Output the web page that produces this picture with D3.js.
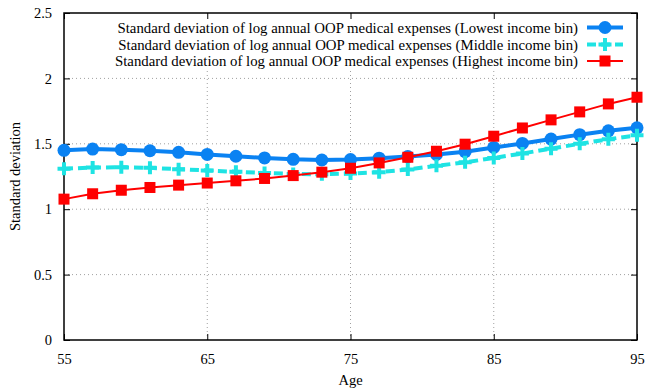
<!DOCTYPE html>
<html>
<head>
<meta charset="utf-8">
<script src="https://cdn.jsdelivr.net/npm/d3@7"></script>
<style>
  html, body { margin: 0; padding: 0; background: #fff; }
  svg { display: block; }
  svg text { font-family: "Liberation Serif", "Times New Roman", "DejaVu Serif", serif; }
</style>
</head>
<body>
<svg id="chart" width="645" height="392"></svg>
<script>
// Ages sampled every two years
const ages = [55, 57, 59, 61, 63, 65, 67, 69, 71, 73, 75, 77, 79, 81, 83, 85, 87, 89, 91, 93, 95];

// Standard deviation of log annual OOP medical expenses by income bin
const lowestIncome  = [1.450, 1.460, 1.455, 1.447, 1.435, 1.419, 1.405, 1.392, 1.381, 1.376, 1.380, 1.390, 1.402, 1.418, 1.440, 1.472, 1.503, 1.536, 1.570, 1.599, 1.622];
const middleIncome  = [1.309, 1.319, 1.320, 1.316, 1.306, 1.296, 1.286, 1.277, 1.270, 1.267, 1.273, 1.283, 1.304, 1.332, 1.358, 1.392, 1.426, 1.463, 1.500, 1.535, 1.565];
const highestIncome = [1.077, 1.118, 1.145, 1.166, 1.184, 1.200, 1.217, 1.235, 1.257, 1.283, 1.313, 1.354, 1.397, 1.443, 1.497, 1.558, 1.621, 1.683, 1.744, 1.805, 1.856];

const seriesLabels = [
  "Standard deviation of log annual OOP medical expenses (Lowest income bin)",
  "Standard deviation of log annual OOP medical expenses (Middle income bin)",
  "Standard deviation of log annual OOP medical expenses (Highest income bin)"
];

const xTicks = [55, 65, 75, 85, 95];
const yTicks = [0, 0.5, 1, 1.5, 2, 2.5];
const xTitle = "Age";
const yTitle = "Standard deviation";

const svg = d3.select("#chart");
const margin = { left: 64, right: 8, top: 13, bottom: 52 };
const W = 645, H = 392;
const x0 = margin.left, x1 = W - margin.right, y0 = H - margin.bottom, y1 = margin.top;

const x = d3.scaleLinear().domain([55, 95]).range([x0, x1]);
const y = d3.scaleLinear().domain([0, 2.5]).range([y0, y1]);

// Dotted grid
const grid = svg.append("g").attr("stroke", "#a0a0a0").attr("stroke-width", 1).attr("stroke-dasharray", "1,3");
grid.selectAll("line.gy").data(yTicks.filter(v => v > 0 && v < 2.5)).join("line")
  .attr("x1", x0).attr("x2", x1).attr("y1", d => y(d)).attr("y2", d => y(d));
grid.selectAll("line.gx").data(xTicks.filter(v => v > 55 && v < 95)).join("line")
  .attr("y1", y0).attr("y2", y1).attr("x1", d => x(d)).attr("x2", d => x(d));

// Key background hides the grid beneath the legend
svg.append("rect").attr("x", 112).attr("y", y1 + 1).attr("width", x1 - 113).attr("height", 56).attr("fill", "#fff");

// Axes with inward ticks, mirrored on the opposite sides
const tickLen = 6;
const axBottom = d3.axisBottom(x).tickValues(xTicks).tickSize(-tickLen).tickPadding(tickLen + 8).tickFormat(d3.format("d"));
const axTop = d3.axisTop(x).tickValues(xTicks).tickSize(-tickLen).tickFormat("");
const axLeft = d3.axisLeft(y).tickValues(yTicks).tickSize(-tickLen).tickPadding(tickLen + 6).tickFormat(d => d3.format("")(d));
const axRight = d3.axisRight(y).tickValues(yTicks).tickSize(-tickLen).tickFormat("");

function styleAxis(g) {
  g.attr("font-family", null);
  g.select(".domain").remove();
  g.selectAll(".tick line").attr("stroke", "#000").attr("stroke-width", 1);
  g.selectAll(".tick text").attr("fill", "#000").attr("font-size", 14.5);
}
svg.append("g").attr("transform", `translate(0,${y0})`).call(axBottom).call(styleAxis);
svg.append("g").attr("transform", `translate(0,${y1})`).call(axTop).call(styleAxis);
svg.append("g").attr("transform", `translate(${x0},0)`).call(axLeft).call(styleAxis);
svg.append("g").attr("transform", `translate(${x1},0)`).call(axRight).call(styleAxis);

// Frame
svg.append("rect").attr("x", x0).attr("y", y1).attr("width", x1 - x0).attr("height", y0 - y1)
  .attr("fill", "none").attr("stroke", "#000").attr("stroke-width", 1.5);

// Axis titles
svg.append("text").attr("x", (x0 + x1) / 2).attr("y", 385).attr("text-anchor", "middle")
  .attr("font-size", 14.5).text(xTitle);
svg.append("text").attr("transform", `translate(20,${(y0 + y1) / 2}) rotate(-90)`).attr("text-anchor", "middle")
  .attr("font-size", 14.5).text(yTitle);

// Series
const series = [
  { values: lowestIncome,  color: "#0a82f2", width: 4, dash: null, marker: "circle" },
  { values: middleIncome,  color: "#1ee3e3", width: 4, dash: "9,5", marker: "plus" },
  { values: highestIncome, color: "#ff0000", width: 2, dash: null, marker: "square" }
];

const line = d3.line().x(d => x(d[0])).y(d => y(d[1]));
const plot = svg.append("g");

function drawMarker(g, type, color, cx, cy) {
  if (type === "circle") {
    g.append("circle").attr("cx", cx).attr("cy", cy).attr("r", 6.5).attr("fill", color);
  } else if (type === "square") {
    g.append("rect").attr("x", cx - 5.5).attr("y", cy - 5.5).attr("width", 11).attr("height", 11).attr("fill", color);
  } else {
    g.append("path").attr("d", `M${cx - 6.5},${cy}H${cx + 6.5}M${cx},${cy - 6.5}V${cy + 6.5}`)
      .attr("stroke", color).attr("stroke-width", 4).attr("fill", "none");
  }
}

series.forEach(s => {
  const pts = ages.map((a, i) => [a, s.values[i]]);
  const g = plot.append("g");
  g.append("path").datum(pts).attr("d", line).attr("fill", "none")
    .attr("stroke", s.color).attr("stroke-width", s.width)
    .attr("stroke-dasharray", s.dash).attr("stroke-linejoin", "round");
  pts.forEach(p => drawMarker(g, s.marker, s.color, x(p[0]), y(p[1])));
});

// Legend
const legendRows = [27.5, 44.5, 61];
const legend = svg.append("g");
series.forEach((s, i) => {
  const ly = legendRows[i];
  legend.append("text").attr("x", 578).attr("y", ly).attr("dy", "0.35em").attr("text-anchor", "end")
    .attr("font-size", 14.8).attr("fill", "#000").text(seriesLabels[i]);
  legend.append("line").attr("x1", 587).attr("x2", 623).attr("y1", ly).attr("y2", ly)
    .attr("stroke", s.color).attr("stroke-width", s.width).attr("stroke-dasharray", s.dash);
  drawMarker(legend, s.marker, s.color, 605, ly);
});
</script>
</body>
</html>
